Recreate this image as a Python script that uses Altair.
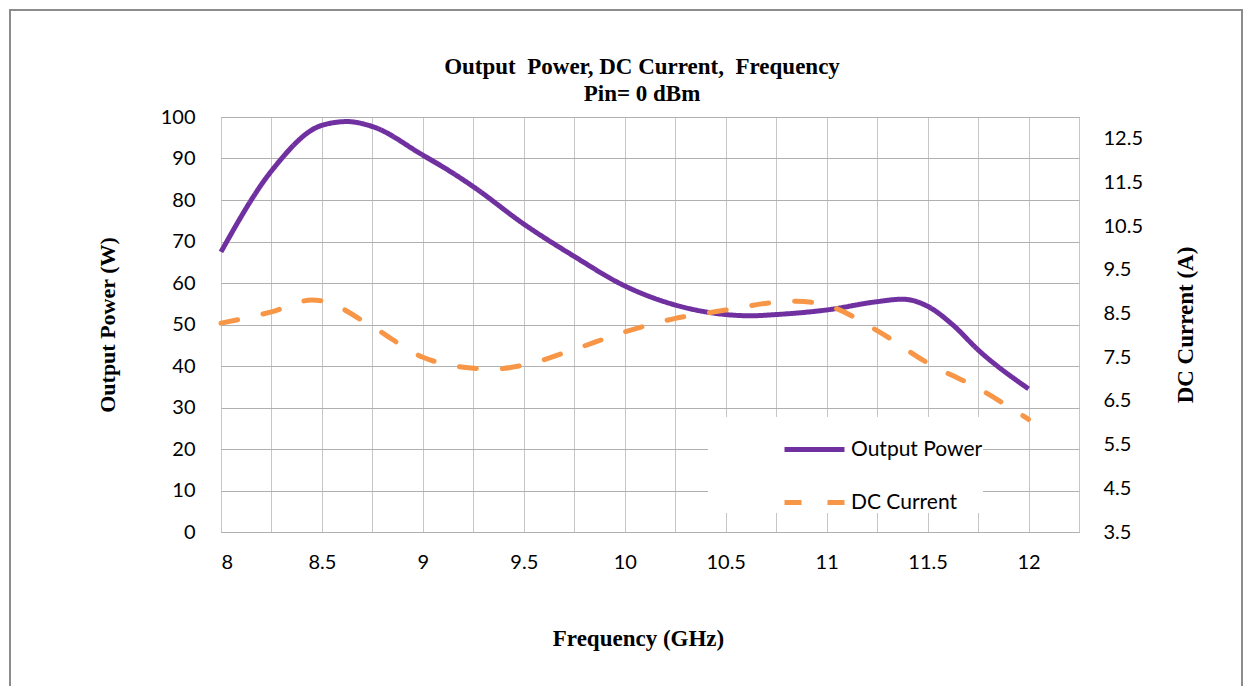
import altair as alt
import pandas as pd

# ---- data ----
freq_power = [8, 8.25, 8.5, 8.625, 8.75, 9, 9.125, 9.25, 9.5, 9.75, 10, 10.25, 10.5,
              10.625, 10.75, 11, 11.25, 11.375, 11.5, 11.625, 11.75, 12]
power_w = [67.5, 87, 98, 98.9, 97.7, 90.8, 87.2, 83.2, 74.2, 66.4, 59.3, 54.7, 52.4,
           52.1, 52.4, 53.5, 55.5, 56.1, 54.4, 49.9, 43.9, 34.5]

freq_current = [8, 8.25, 8.45, 8.5, 8.75, 9, 9.25, 9.35, 9.5, 9.75, 10, 10.25,
                10.5, 10.75, 10.85, 11, 11.25, 11.5, 11.75, 12]
current_a = [8.28, 8.54, 8.81, 8.79, 8.2, 7.5, 7.25, 7.23, 7.32, 7.68, 8.08, 8.39,
             8.58, 8.76, 8.78, 8.69, 8.11, 7.37, 6.79, 6.08]

series_names = ["Output Power", "DC Current"]
series_colors = ["#7030A0", "#F79646"]

x_grid_values = [8 + 0.25 * i for i in range(18)]
left_ticks = [0, 10, 20, 30, 40, 50, 60, 70, 80, 90, 100]
right_ticks = [3.5, 4.5, 5.5, 6.5, 7.5, 8.5, 9.5, 10.5, 11.5, 12.5]

title_lines = ["Output\u00a0 Power, DC Current,\u00a0 Frequency", "Pin= 0 dBm"]

df_p = pd.DataFrame({"freq": freq_power, "value": power_w, "series": series_names[0]})
df_c = pd.DataFrame({"freq": freq_current, "value": current_a, "series": series_names[1]})

W, H = 858, 415
TICK_FONT = "Lato"
TITLE_FONT = "Liberation Serif"

legend = alt.Legend(
    title=None, orient="none", legendX=487, legendY=300,
    fillColor="white", padding=0, symbolType="stroke", symbolStrokeWidth=5,
    symbolSize=3600, symbolOffset=74, labelOffset=4, rowPadding=10,
    labelFont=TICK_FONT, labelFontSize=21, labelColor="black",
)
color = alt.Color("series:N", scale=alt.Scale(domain=series_names, range=series_colors), legend=legend)
dash = alt.StrokeDash("series:N", scale=alt.Scale(domain=series_names, range=[[1, 0], [17, 26]]), legend=legend)

x_enc = alt.X(
    "freq:Q",
    scale=alt.Scale(domain=[8, 12.25], nice=False, zero=False),
    axis=alt.Axis(
        values=x_grid_values, format="~g",
        labelExpr="((datum.value * 2) % 1 == 0 && datum.value <= 12) ? datum.label : ''",
        grid=True, gridColor="#c6c6c6", ticks=False, domain=False,
        labelFont=TICK_FONT, labelFontSize=20, labelColor="black", labelPadding=20,
        title="Frequency (GHz)", titleFont=TITLE_FONT, titleFontSize=23, titleFontWeight="bold",
        titleColor="black", titleX=417, titleY=106, titleBaseline="middle", titleAlign="center",
    ),
)

power_line = alt.Chart(df_p).mark_line(strokeWidth=5, interpolate="monotone").encode(
    x=x_enc,
    y=alt.Y(
        "value:Q",
        scale=alt.Scale(domain=[0, 100], nice=False),
        axis=alt.Axis(
            orient="left", values=left_ticks, grid=True, gridColor="#b0b0b0",
            ticks=False, domain=False, labelFont=TICK_FONT, labelFontSize=20,
            labelColor="black", labelPadding=26,
            title="Output Power (W)", titleFont=TITLE_FONT, titleFontSize=22,
            titleFontWeight="bold", titleColor="black", titleAngle=270,
            titleX=-114, titleY=H / 2, titleBaseline="middle", titleAlign="center",
        ),
    ),
    color=color,
    strokeDash=dash,
)

current_line = alt.Chart(df_c).mark_line(strokeWidth=5, interpolate="monotone", strokeCap="round").encode(
    x=alt.X("freq:Q", scale=alt.Scale(domain=[8, 12.25], nice=False, zero=False)),
    y=alt.Y(
        "value:Q",
        scale=alt.Scale(domain=[3.5, 13], nice=False, zero=False),
        axis=alt.Axis(
            orient="right", values=right_ticks, format=".1f", grid=False,
            ticks=False, domain=False, labelFont=TICK_FONT, labelFontSize=20,
            labelColor="black", labelPadding=24,
            title="DC Current (A)", titleFont=TITLE_FONT, titleFontSize=23,
            titleFontWeight="bold", titleColor="black", titleAngle=270,
            titleX=106, titleY=H / 2, titleBaseline="middle", titleAlign="center",
        ),
    ),
    color=color,
    strokeDash=dash,
)

frame = alt.Chart(pd.DataFrame({"k": [0]})).mark_rect(
    fillOpacity=0, stroke="#8c8c8c", strokeWidth=2
).encode(
    x=alt.value(-211), x2=alt.value(1021), y=alt.value(-107), y2=alt.value(620)
)

chart = alt.layer(frame, power_line, current_line).resolve_scale(
    y="independent"
).properties(
    width=W, height=H,
    padding={"left": 213, "top": 109, "right": 166, "bottom": 154},
    autosize=alt.AutoSizeParams(type="none"),
    background="white",
    title=alt.TitleParams(
        text=title_lines,
        font=TITLE_FONT, fontSize=23, fontWeight="bold", color="black",
        anchor="middle", frame="group", dx=-8, dy=111, offset=14, lineHeight=27,
    ),
).configure_view(stroke="#a6a6a6", strokeWidth=1)

chart.save("out.html", embed_options={"renderer": "svg", "actions": False})
